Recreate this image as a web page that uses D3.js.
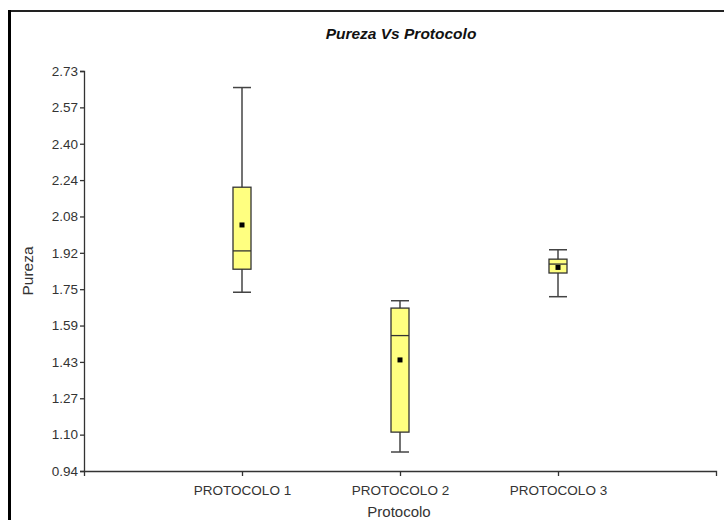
<!DOCTYPE html>
<html>
<head>
<meta charset="utf-8">
<script src="https://cdn.jsdelivr.net/npm/d3@7"></script>
<style>
  html, body { margin: 0; padding: 0; background: #fff; }
  svg { display: block; font-family: "Liberation Sans", Arial, sans-serif; }
</style>
</head>
<body>
<svg id="chart" width="724" height="520"></svg>
<script>
// Pureza Vs Protocolo — box plot
const categories   = ['PROTOCOLO 1', 'PROTOCOLO 2', 'PROTOCOLO 3'];
const whiskerLow   = [1.74, 1.025, 1.72];
const q1           = [1.843, 1.114, 1.826];
const median       = [1.925, 1.546, 1.866];
const q3           = [2.21, 1.669, 1.888];
const whiskerHigh  = [2.656, 1.702, 1.93];
const means        = [2.041, 1.437, 1.851];
const yTickLabels  = ['0.94','1.10','1.27','1.43','1.59','1.75','1.92','2.08','2.24','2.40','2.57','2.73'];
const yMin = 0.94, yMax = 2.73;

const W = 724, H = 520;
const m = { left: 84, right: 8, top: 71, bottom: 48 };

const svg = d3.select('#chart');
svg.append('rect').attr('width', W).attr('height', H).attr('fill', '#fff');

// frame (left + top border of the window)
svg.append('path').attr('d', `M${W},11 H9.5`)
  .attr('fill', 'none').attr('stroke', '#222').attr('stroke-width', 2.2);
svg.append('path').attr('d', `M9.5,10 V${H}`)
  .attr('fill', 'none').attr('stroke', '#000').attr('stroke-width', 3);

const x = d3.scaleLinear().domain([0, 4]).range([m.left, W - m.right]);
const y = d3.scaleLinear().domain([yMin, yMax]).range([H - m.bottom - 1, m.top]);

const yTicks = d3.range(yTickLabels.length).map(i => yMin + i * (yMax - yMin) / (yTickLabels.length - 1));

const yAxis = svg.append('g').attr('transform', `translate(${m.left},0)`)
  .call(d3.axisLeft(y).tickValues(yTicks).tickSize(4).tickSizeOuter(4).tickPadding(2)
    .tickFormat((d, i) => yTickLabels[i]));
const xAxis = svg.append('g').attr('transform', `translate(0,${y(yMin)})`)
  .call(d3.axisBottom(x).tickValues([1, 2, 3]).tickSize(5).tickSizeOuter(5).tickPadding(9)
    .tickFormat((d, i) => categories[i]));

[yAxis, xAxis].forEach(g => {
  g.selectAll('path, line').attr('stroke', '#333').attr('stroke-width', 1.3);
  g.selectAll('text').attr('fill', '#333').attr('font-size', '13.5px')
    .attr('font-family', '"Liberation Sans", Arial, sans-serif');
});

// boxes
const bw = 18;
const rows = categories.map((c, i) => ({ i, lo: whiskerLow[i], q1: q1[i], med: median[i], q3: q3[i], hi: whiskerHigh[i], mean: means[i] }));
const g = svg.append('g');
const box = g.selectAll('g.box').data(rows).enter().append('g').attr('class', 'box');

box.append('line')
  .attr('x1', d => x(d.i + 1)).attr('x2', d => x(d.i + 1))
  .attr('y1', d => y(d.hi)).attr('y2', d => y(d.lo))
  .attr('stroke', '#444').attr('stroke-width', 1.5);
['hi', 'lo'].forEach(k => {
  box.append('line')
    .attr('x1', d => x(d.i + 1) - bw / 2).attr('x2', d => x(d.i + 1) + bw / 2)
    .attr('y1', d => y(d[k])).attr('y2', d => y(d[k]))
    .attr('stroke', '#444').attr('stroke-width', 1.5);
});
box.append('rect')
  .attr('x', d => x(d.i + 1) - bw / 2).attr('width', bw)
  .attr('y', d => y(d.q3)).attr('height', d => y(d.q1) - y(d.q3))
  .attr('fill', '#ffff80').attr('stroke', '#333').attr('stroke-width', 1.3);
box.append('line')
  .attr('x1', d => x(d.i + 1) - bw / 2).attr('x2', d => x(d.i + 1) + bw / 2)
  .attr('y1', d => y(d.med)).attr('y2', d => y(d.med))
  .attr('stroke', '#333').attr('stroke-width', 1.3);
box.append('rect')
  .attr('x', d => x(d.i + 1) - 2.5).attr('y', d => y(d.mean) - 2.5)
  .attr('width', 5).attr('height', 5).attr('fill', '#000');

// titles
svg.append('text').attr('x', 401).attr('y', 39).attr('text-anchor', 'middle')
  .attr('font-size', '15.5px').attr('font-weight', 'bold').attr('font-style', 'italic')
  .attr('fill', '#111').text('Pureza Vs Protocolo');
svg.append('text').attr('x', 399).attr('y', 517).attr('text-anchor', 'middle')
  .attr('font-size', '15px').attr('fill', '#333').text('Protocolo');
svg.append('text').attr('transform', `translate(33,${(y(yMin) + y(yMax)) / 2}) rotate(-90)`)
  .attr('text-anchor', 'middle').attr('font-size', '15.5px').attr('fill', '#333').text('Pureza');
</script>
</body>
</html>
